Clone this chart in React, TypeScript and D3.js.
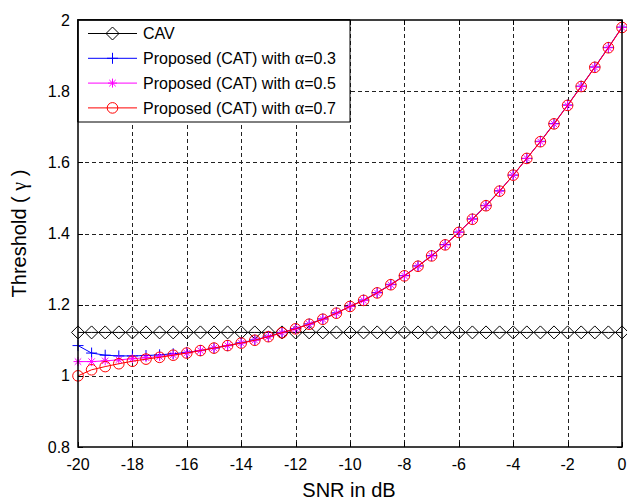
import { useEffect, useRef } from 'react';
import * as d3 from 'd3';

const snr = [
  -20, -19.5, -19, -18.5, -18, -17.5, -17, -16.5, -16, -15.5, -15, -14.5, -14, -13.5,
  -13, -12.5, -12, -11.5, -11, -10.5, -10, -9.5, -9, -8.5, -8, -7.5, -7, -6.5, -6,
  -5.5, -5, -4.5, -4, -3.5, -3, -2.5, -2, -1.5, -1, -0.5, 0,
];

const cav = [
  1.122, 1.122, 1.122, 1.122, 1.122, 1.122, 1.122, 1.122, 1.122, 1.122, 1.122, 1.122,
  1.122, 1.122, 1.122, 1.122, 1.122, 1.122, 1.122, 1.122, 1.122, 1.122, 1.122, 1.122,
  1.122, 1.122, 1.122, 1.122, 1.122, 1.122, 1.122, 1.122, 1.122, 1.122, 1.122, 1.122,
  1.122, 1.122, 1.122, 1.122, 1.122,
];

const alpha03 = [
  1.085, 1.064, 1.058, 1.056, 1.056, 1.057, 1.059, 1.062, 1.066, 1.071, 1.078, 1.085,
  1.093, 1.101, 1.111, 1.122, 1.133, 1.146, 1.160, 1.177, 1.195, 1.213, 1.234, 1.257,
  1.282, 1.309, 1.338, 1.369, 1.404, 1.441, 1.479, 1.520, 1.564, 1.611, 1.659, 1.709,
  1.761, 1.814, 1.868, 1.923, 1.980,
];

const alpha05 = [
  1.040, 1.040, 1.042, 1.045, 1.048, 1.051, 1.054, 1.059, 1.064, 1.071, 1.078, 1.085,
  1.092, 1.100, 1.110, 1.121, 1.132, 1.145, 1.159, 1.176, 1.195, 1.212, 1.233, 1.256,
  1.281, 1.308, 1.337, 1.368, 1.403, 1.440, 1.478, 1.519, 1.564, 1.611, 1.658, 1.708,
  1.760, 1.813, 1.867, 1.922, 1.979,
];

const alpha07 = [
  1.000, 1.017, 1.026, 1.034, 1.041, 1.047, 1.052, 1.058, 1.064, 1.071, 1.078, 1.085,
  1.092, 1.100, 1.110, 1.121, 1.132, 1.145, 1.159, 1.176, 1.195, 1.212, 1.233, 1.256,
  1.281, 1.308, 1.337, 1.368, 1.403, 1.440, 1.478, 1.519, 1.564, 1.611, 1.658, 1.708,
  1.760, 1.813, 1.867, 1.922, 1.979,
];

const xTicks = [-20, -18, -16, -14, -12, -10, -8, -6, -4, -2, 0];
const yTicks = [0.8, 1, 1.2, 1.4, 1.6, 1.8, 2];

type Marker = 'diamond' | 'plus' | 'star' | 'circle';

const series: { values: number[]; color: string; marker: Marker; label: string }[] = [
  { values: cav, color: '#000000', marker: 'diamond', label: 'CAV' },
  { values: alpha03, color: '#0000ff', marker: 'plus', label: '0.3' },
  { values: alpha05, color: '#ff00ff', marker: 'star', label: '0.5' },
  { values: alpha07, color: '#ff0000', marker: 'circle', label: '0.7' },
];

const FONT = 'Liberation Sans, Arial, sans-serif';
const SERIF = 'Liberation Serif, Times New Roman, serif';

const App = () => {
  const svgRef = useRef<SVGSVGElement>(null);

  useEffect(() => {
    if (!svgRef.current) return;
    const width = 627;
    const height = 501;
    const m = { left: 78, right: 622, top: 20, bottom: 447 };

    const svg = d3.select(svgRef.current).attr('width', width).attr('height', height);
    svg.selectAll('*').remove();

    const x = d3.scaleLinear().domain([-20, 0]).range([m.left, m.right]);
    const y = d3.scaleLinear().domain([0.8, 2]).range([m.bottom, m.top]);

    svg.append('rect').attr('width', width).attr('height', height).attr('fill', '#fff');

    // grid
    const grid = svg.append('g').attr('stroke', '#222').attr('stroke-width', 1).attr('stroke-dasharray', '4,3');
    grid
      .selectAll('line.v')
      .data(xTicks.slice(1, -1))
      .join('line')
      .attr('class', 'v')
      .attr('x1', (d) => Math.round(x(d)) + 0.5)
      .attr('x2', (d) => Math.round(x(d)) + 0.5)
      .attr('y1', m.top)
      .attr('y2', m.bottom);
    grid
      .selectAll('line.h')
      .data(yTicks.slice(1, -1))
      .join('line')
      .attr('class', 'h')
      .attr('x1', m.left)
      .attr('x2', m.right)
      .attr('y1', (d) => Math.round(y(d)) + 0.5)
      .attr('y2', (d) => Math.round(y(d)) + 0.5);

    const drawMarker = (g: any, type: Marker, cx: number, cy: number, color: string) => {
      if (type === 'diamond') {
        const s = 6.5;
        g.append('path')
          .attr('d', `M${cx},${cy - s}L${cx + s},${cy}L${cx},${cy + s}L${cx - s},${cy}Z`)
          .attr('fill', 'none')
          .attr('stroke', color)
          .attr('stroke-width', 1);
      } else if (type === 'plus') {
        const s = 5.5;
        g.append('path')
          .attr('d', `M${cx - s},${cy}H${cx + s}M${cx},${cy - s}V${cy + s}`)
          .attr('stroke', color)
          .attr('stroke-width', 1);
      } else if (type === 'star') {
        const s = 4.5;
        const d = s * 0.72;
        g.append('path')
          .attr(
            'd',
            `M${cx - s},${cy}H${cx + s}M${cx},${cy - s}V${cy + s}M${cx - d},${cy - d}L${cx + d},${cy + d}M${cx - d},${cy + d}L${cx + d},${cy - d}`,
          )
          .attr('stroke', color)
          .attr('stroke-width', 1);
      } else {
        g.append('circle')
          .attr('cx', cx)
          .attr('cy', cy)
          .attr('r', 5.3)
          .attr('fill', 'none')
          .attr('stroke', color)
          .attr('stroke-width', 1);
      }
    };

    const line = d3
      .line<number>()
      .x((_, i) => x(snr[i]))
      .y((d) => y(d));

    series.forEach((s) => {
      const g = svg.append('g');
      g.append('path').attr('d', line(s.values)).attr('fill', 'none').attr('stroke', s.color).attr('stroke-width', 1);
      s.values.forEach((v, i) => drawMarker(g, s.marker, x(snr[i]), y(v), s.color));
    });

    // frame and ticks (box on, ticks inside)
    svg
      .append('rect')
      .attr('x', m.left)
      .attr('y', m.top)
      .attr('width', m.right - m.left)
      .attr('height', m.bottom - m.top)
      .attr('fill', 'none')
      .attr('stroke', '#000')
      .attr('stroke-width', 1.5);

    const ticks = svg.append('g').attr('stroke', '#000').attr('stroke-width', 1);
    xTicks.forEach((t) => {
      const px = Math.round(x(t)) + 0.5;
      ticks.append('line').attr('x1', px).attr('x2', px).attr('y1', m.bottom).attr('y2', m.bottom - 5);
      ticks.append('line').attr('x1', px).attr('x2', px).attr('y1', m.top).attr('y2', m.top + 5);
    });
    yTicks.forEach((t) => {
      const py = Math.round(y(t)) + 0.5;
      ticks.append('line').attr('x1', m.left).attr('x2', m.left + 5).attr('y1', py).attr('y2', py);
      ticks.append('line').attr('x1', m.right).attr('x2', m.right - 5).attr('y1', py).attr('y2', py);
    });

    // tick labels
    svg
      .append('g')
      .selectAll('text')
      .data(xTicks)
      .join('text')
      .attr('x', (d) => x(d))
      .attr('y', 470)
      .attr('text-anchor', 'middle')
      .attr('font-family', FONT)
      .attr('font-size', 16)
      .text((d) => String(d));

    svg
      .append('g')
      .selectAll('text')
      .data(yTicks)
      .join('text')
      .attr('x', 70)
      .attr('y', (d) => y(d))
      .attr('dy', '0.35em')
      .attr('text-anchor', 'end')
      .attr('font-family', FONT)
      .attr('font-size', 16)
      .text((d) => String(d));

    // axis titles
    svg
      .append('text')
      .attr('x', 349)
      .attr('y', 497)
      .attr('text-anchor', 'middle')
      .attr('font-family', FONT)
      .attr('font-size', 20)
      .text('SNR in dB');

    const yl = svg
      .append('text')
      .attr('transform', `translate(26,${(m.top + m.bottom) / 2}) rotate(-90)`)
      .attr('text-anchor', 'middle')
      .attr('font-family', FONT)
      .attr('font-size', 20);
    yl.append('tspan').text('Threshold ( ');
    yl.append('tspan').attr('font-family', SERIF).text('γ');
    yl.append('tspan').text(' )');

    // legend
    const lg = svg.append('g');
    lg.append('rect')
      .attr('x', m.left)
      .attr('y', m.top)
      .attr('width', 272)
      .attr('height', 102)
      .attr('fill', '#fff')
      .attr('stroke', '#000')
      .attr('stroke-width', 1);
    series.forEach((s, i) => {
      const ry = 33.5 + i * 24.8;
      lg.append('line').attr('x1', 88).attr('x2', 137).attr('y1', ry).attr('y2', ry).attr('stroke', s.color).attr('stroke-width', 1);
      drawMarker(lg, s.marker, 112.5, ry, s.color);
      const t = lg
        .append('text')
        .attr('x', 143)
        .attr('y', ry)
        .attr('dy', '0.36em')
        .attr('font-family', FONT)
        .attr('font-size', 16);
      if (s.marker === 'diamond') {
        t.text(s.label);
      } else {
        t.append('tspan').text('Proposed (CAT) with ');
        t.append('tspan').attr('font-family', SERIF).attr('font-size', 18).text('α');
        t.append('tspan').text('=' + s.label);
      }
    });
    // axes edge stays on top of the legend box
    svg
      .append('path')
      .attr('d', `M${m.left},${m.top + 102}V${m.top}H${m.left + 272}`)
      .attr('fill', 'none')
      .attr('stroke', '#000')
      .attr('stroke-width', 1.5);
  }, []);

  return <svg ref={svgRef} style={{ position: 'absolute', left: 0, top: 0 }}></svg>;
};

export default App;
